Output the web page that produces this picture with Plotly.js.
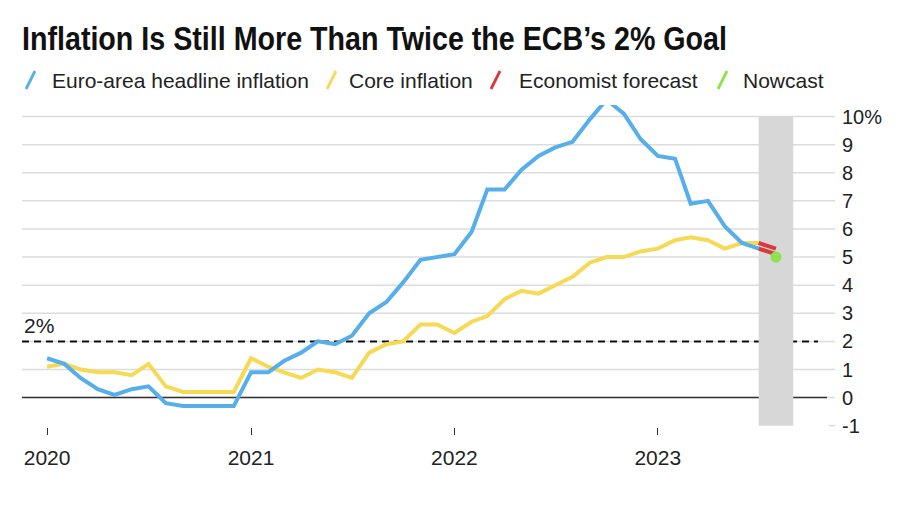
<!DOCTYPE html>
<html>
<head>
<meta charset="utf-8">
<script src="https://cdn.plot.ly/plotly-3.0.1.min.js"></script>
<style>html,body{margin:0;padding:0;background:#fff;}#chart{width:900px;height:510px;}</style>
</head>
<body>
<div id="chart"></div>
<script>
// ---- Data ----
const startYear = 2020;
const monthCount = 43; // Jan 2020 .. Jul 2023
const months = [];
for (let i = 0; i < monthCount; i++) {
  const y = startYear + Math.floor(i / 12);
  const m = (i % 12) + 1;
  months.push(y + '-' + String(m).padStart(2, '0') + '-01');
}
const headline = [1.4,1.2,0.7,0.3,0.1,0.3,0.4,-0.2,-0.3,-0.3,-0.3,-0.3,
                  0.9,0.9,1.3,1.6,2.0,1.9,2.2,3.0,3.4,4.1,4.9,5.0,
                  5.1,5.9,7.4,7.4,8.1,8.6,8.9,9.1,9.9,10.6,10.1,9.2,
                  8.6,8.5,6.9,7.0,6.1,5.5,5.3];
const core = [1.1,1.2,1.0,0.9,0.9,0.8,1.2,0.4,0.2,0.2,0.2,0.2,
              1.4,1.1,0.9,0.7,1.0,0.9,0.7,1.6,1.9,2.0,2.6,2.6,
              2.3,2.7,2.9,3.5,3.8,3.7,4.0,4.3,4.8,5.0,5.0,5.2,
              5.3,5.6,5.7,5.6,5.3,5.5,5.5];
const forecastDates = ['2023-07-01','2023-08-01'];
const headlineForecast = [5.3, 5.1];
const coreForecast = [5.5, 5.3];
const nowcastDates = ['2023-08-01'];
const nowcast = [5.0];
const bandStart = '2023-07-01', bandEnd = '2023-09-01';
const goal = 2;
const yearTicks = ['2020-01-01','2021-01-01','2022-01-01','2023-01-01'];
const yearLabels = ['2020','2021','2022','2023'];
const yTickVals = [-1,0,1,2,3,4,5,6,7,8,9,10];
const yTickText = ['-1','0','1','2','3','4','5','6','7','8','9','10%'];
const gridVals = [0,1,2,3,4,5,6,7,8,9,10];
const legendNames = ['Euro-area headline inflation','Core inflation','Economist forecast','Nowcast'];
const titleText = 'Inflation Is Still More Than Twice the ECB’s 2% Goal';

// ---- Styling ----
const BLUE = '#56aeea', YELLOW = '#f6da55', RED = '#d8393c', GREEN = '#8ee34d';
const FONT = 'Liberation Sans, Arial, Helvetica, sans-serif';
const W = 900, H = 510, ML = 22, MR = 65, MT = 105, MB = 75;
const PW = W - ML - MR, PH = H - MT - MB;
const px = x => (x - ML) / PW;          // pixel -> paper x
const py = y => (H - MB - y) / PH;      // pixel -> paper y

const traces = [
  {x: months, y: core, type: 'scatter', mode: 'lines', line: {color: YELLOW, width: 4}, hoverinfo: 'skip', cliponaxis: false},
  {x: months, y: headline, type: 'scatter', mode: 'lines', line: {color: BLUE, width: 4}, hoverinfo: 'skip', cliponaxis: false},
  {x: forecastDates, y: coreForecast, type: 'scatter', mode: 'lines', line: {color: RED, width: 4}, hoverinfo: 'skip', cliponaxis: false},
  {x: forecastDates, y: headlineForecast, type: 'scatter', mode: 'lines', line: {color: RED, width: 4}, hoverinfo: 'skip', cliponaxis: false},
  {x: nowcastDates, y: nowcast, type: 'scatter', mode: 'markers', marker: {color: GREEN, size: 11}, hoverinfo: 'skip', cliponaxis: false}
];

const shapes = [];
shapes.push({type: 'rect', xref: 'x', yref: 'y', x0: bandStart, x1: bandEnd, y0: -1, y1: 10,
             fillcolor: '#d7d7d7', line: {width: 0}, layer: 'below'});
gridVals.forEach(g => shapes.push({type: 'line', xref: 'paper', yref: 'y', x0: 0, x1: 1, y0: g, y1: g,
             line: {color: '#dcdcdc', width: 1.5}, layer: 'below'}));
shapes.push({type: 'line', xref: 'paper', yref: 'y', x0: px(829), x1: 1, y0: -1, y1: -1,
             line: {color: '#dcdcdc', width: 1.5}, layer: 'below'});
shapes.push({type: 'line', xref: 'paper', yref: 'y', x0: 0, x1: px(827), y0: 0, y1: 0,
             line: {color: '#333333', width: 1.5}, layer: 'below'});
shapes.push({type: 'line', xref: 'paper', yref: 'y', x0: 0, x1: px(818), y0: goal, y1: goal,
             line: {color: '#111111', width: 2, dash: '7px,5px'}, layer: 'below'});

// legend icons + texts
const legendColors = [BLUE, YELLOW, RED, GREEN];
const iconX = [26, 327, 491, 718];
const textX = [50, 347, 517, 741];
const annotations = [];
legendNames.forEach((n, i) => {
  shapes.push({type: 'line', xref: 'paper', yref: 'paper', x0: px(iconX[i]), x1: px(iconX[i] + 9),
               y0: py(89), y1: py(71), line: {color: legendColors[i], width: 2.8}});
  annotations.push({xref: 'paper', yref: 'paper', x: px(textX[i]), y: py(80), xanchor: 'left', yanchor: 'middle',
                    text: n, showarrow: false, font: {family: FONT, size: 21, color: '#222'}});
});
annotations.push({xref: 'paper', yref: 'paper', x: 0, y: py(325), xanchor: 'left', yanchor: 'middle',
                  text: goal + '%', showarrow: false, font: {family: FONT, size: 21, color: '#222'}});

const layout = {
  width: W, height: H,
  margin: {l: ML, r: MR, t: MT, b: MB, pad: 0},
  paper_bgcolor: '#ffffff', plot_bgcolor: '#ffffff',
  showlegend: false,
  title: {text: titleText, xref: 'container', yref: 'container',
          x: 22 / W, xanchor: 'left', y: 1 - 38 / H, yanchor: 'middle',
          font: {family: 'Liberation Sans, Arial, sans-serif', size: 33, weight: 700, color: '#111'}},
  xaxis: {type: 'date', range: ['2019-11-17', '2023-11-15'], tickvals: yearTicks, ticktext: yearLabels,
          ticks: 'inside', ticklen: 7, tickwidth: 1, tickcolor: '#333', showgrid: false, zeroline: false, showline: false,
          tickfont: {family: FONT, size: 21, color: '#222'}, ticklabelstandoff: 8, fixedrange: true},
  yaxis: {side: 'right', range: [-1.33, 10.41], tickvals: yTickVals, ticktext: yTickText, showgrid: false,
          zeroline: false, showline: false, ticks: '', tickfont: {family: FONT, size: 20, color: '#222'},
          ticklabelstandoff: 6, fixedrange: true},
  shapes: shapes,
  annotations: annotations
};

Plotly.newPlot('chart', traces, layout, {staticPlot: true, displayModeBar: false}).then(gd => {
  // Condense the title to the width of the reference's condensed headline face
  const t = gd.querySelector('.gtitle');
  if (t) {
    t.setAttribute('textLength', '705');
    t.setAttribute('lengthAdjust', 'spacingAndGlyphs');
  }
});
</script>
</body>
</html>
